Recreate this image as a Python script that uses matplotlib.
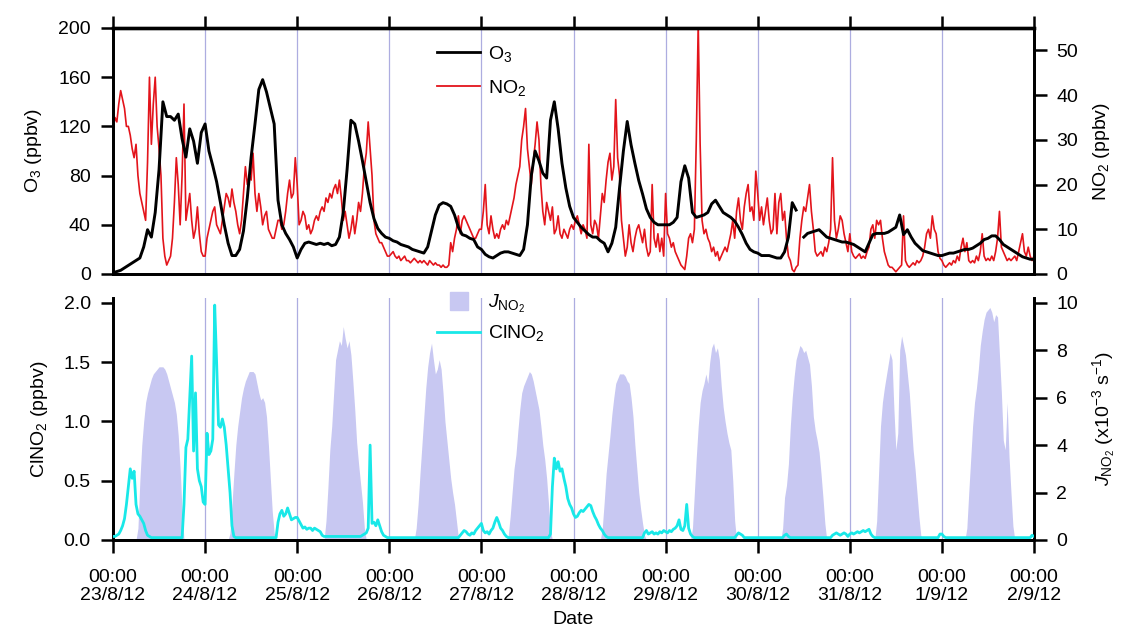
import numpy as np
import pandas as pd
import matplotlib
matplotlib.use("Agg")
import matplotlib.pyplot as plt
from matplotlib.lines import Line2D
from matplotlib.ticker import FormatStrFormatter

plt.rcParams['font.family'] = ['Liberation Sans', 'DejaVu Sans']
plt.rcParams['mathtext.fontset'] = 'custom'
plt.rcParams['mathtext.rm'] = 'Liberation Sans'
plt.rcParams['mathtext.it'] = 'Liberation Sans:italic'
plt.rcParams['mathtext.bf'] = 'Liberation Sans:bold'

# ---------------- data ----------------
# O3 (ppbv), hourly from 23/8/12 00:00 to 2/9/12 00:00
o3_d0 = [1, 2, 3, 5, 7, 9, 11, 13, 22, 36, 30, 50, 85, 140, 128, 128, 125, 130, 110, 95, 118, 108, 90, 115]
o3_d1 = [122, 100, 88, 75, 58, 40, 25, 15, 15, 20, 35, 62, 95, 122, 150, 158, 148, 135, 122, 60, 40, 33, 28, 22]
o3_d2 = [13, 20, 25, 26, 25, 24, 25, 24, 25, 23, 24, 30, 50, 85, 125, 122, 108, 92, 75, 58, 45, 37, 33, 30]
o3_d3 = [29, 27, 26, 24, 23, 22, 20, 19, 18, 17, 22, 35, 48, 56, 58, 57, 55, 48, 38, 32, 31, 29, 28, 22]
o3_d4 = [20, 16, 14, 13, 15, 17, 18, 18, 17, 16, 15, 20, 40, 80, 100, 92, 82, 78, 125, 140, 118, 90, 70, 55]
o3_d5 = [46, 42, 38, 35, 32, 30, 30, 27, 25, 18, 25, 38, 70, 100, 124, 105, 90, 76, 65, 53, 46, 42, 40, 40]
o3_d6 = [40, 40, 42, 46, 75, 88, 78, 50, 46, 47, 48, 50, 57, 60, 55, 50, 48, 46, 43, 38, 32, 25, 20, 18]
o3_d7 = [17, 15, 15, 15, 14, 13, 13, 18, 30, 58, 52, np.nan, 30, 33, 34, 35, 36, 33, 30, 29, 28, 27, 26, 26]
o3_d8 = [25, 24, 22, 20, 18, 25, 32, 33, 33, 33, 34, 36, 38, 48, 32, 36, 30, 25, 22, 19, 18, 17, 16, 15]
o3_d9 = [15, 16, 17, 17, 18, 19, 20, 20, 21, 23, 25, 28, 29, 31, 31, 28, 24, 22, 20, 18, 16, 14, 13, 12, 12]

# NO2 (ppbv), 30-min values
no2_d0 = [32, 35, 34, 38, 41, 39, 37, 33, 33, 31, 28, 26, 29, 22, 18, 16, 14, 12, 25, 44, 29, 38, 44, 33,
          28, 22, 8, 4, 2, 3, 4, 8, 16, 26, 20, 11, 22, 38, 12, 15, 18, 12, 8, 10, 15, 9, 5, 4]
no2_d1 = [4, 8, 10, 12, 14, 15, 11, 10, 9, 12, 15, 18, 17, 15, 19, 16, 14, 11, 9, 12, 18, 24, 20, 22,
          21, 27, 18, 14, 18, 15, 11, 13, 14, 10, 9, 8, 8, 10, 12, 12, 10, 11, 14, 18, 21, 17, 18, 26]
no2_d2 = [20, 11, 12, 14, 13, 10, 11, 9, 10, 12, 13, 12, 14, 15, 14, 17, 16, 18, 17, 19, 20, 18, 21, 17,
          12, 14, 11, 8, 10, 13, 9, 12, 16, 14, 18, 24, 27, 34, 28, 22, 12, 9, 8, 7, 7, 6, 5, 4]
no2_d3 = [4, 4.5, 5, 4, 3.5, 4, 3, 3.5, 4, 3, 3, 2.5, 3, 3.5, 3, 2.5, 3, 2.5, 3, 2.5, 2, 3, 2.5, 2,
          2.5, 2, 2, 1.5, 2, 1.5, 1.5, 2, 7, 5, 8, 10, 13, 9, 12, 13, 12, 11, 10, 9, 8, 8, 9, 10]
no2_d4 = [10, 14, 20, 11, 9, 13, 10, 8, 9, 8, 10, 11, 10, 12, 11, 13, 15, 17, 20, 22, 24, 30, 33, 37,
          28, 24, 20, 25, 29, 34, 30, 20, 14, 11, 16, 14, 12, 15, 9, 10, 13, 9, 8, 10, 9, 8, 10, 11]
no2_d5 = [10, 12, 13, 11, 9, 11, 10, 8, 29, 11, 9, 12, 11, 8, 13, 18, 16, 21, 25, 27, 21, 24, 39, 26,
          22, 12, 8, 4, 6, 11, 7, 5, 8, 10, 11, 9, 7, 10, 6, 4, 5, 20, 8, 6, 9, 5, 8, 4]
no2_d6 = [18, 9, 8, 6, 7, 5, 4, 3, 2, 1.5, 1, 4, 8, 9, 7, 10, 30, 56, 29, 12, 9, 10, 8, 7,
          5, 6, 4, 5, 3, 4, 5, 6, 5, 7, 9, 12, 8, 14, 17, 12, 10, 15, 18, 20, 14, 15, 12, 23]
no2_d7 = [18, 12, 15, 11, 14, 17, 12, 9, 10, 18, 9, 16, 18, 12, 14, 8, 4, 3, 1, 0.5, 1.5, 2, 8, 12,
          15, 14, 17, 20, 14, 10, 5, 4, 4.5, 5, 4, 6, 5, 7, 10, 26, 12, 8, 10, 13, 12, 9, 7, 5]
no2_d8 = [9, 5, 4, 3.5, 4, 4.5, 3.5, 4, 3.5, 5, 6, 10, 11, 8, 12, 11, 12, 8, 5, 3.5, 2, 1.5, 1.5, 1,
          0.5, 1, 1.5, 2, 13, 3, 2, 1.5, 2, 2.5, 2, 3, 2.5, 3, 4, 6, 9, 10, 8, 13, 10, 9, 5, 3.5]
no2_d9 = [3, 2, 1.5, 2, 2.5, 2, 3, 2.5, 4, 3, 6, 8, 5, 7, 3, 2.5, 3, 2.5, 4, 3, 5, 9, 4, 3,
          3.5, 3, 4, 3, 5, 8, 14, 6, 5, 4, 3, 3.5, 3, 3.5, 4, 3, 5, 7, 9, 5, 4, 6, 4, 3, 4]

# J_NO2 (x10^-3 s^-1), 30-min values (zero at night)
j_d0 = [0] * 13 + [0.5, 2.5, 4, 5, 5.8, 6.2, 6.5, 6.8, 7.0, 7.1, 7.2, 7.3, 7.3, 7.3, 7.2, 7.0, 6.7, 6.4,
                   6.1, 5.8, 5.3, 4.4, 3.0, 1.2, 0] + [0] * 10
j_d1 = [0] * 13 + [0.3, 1.5, 2.8, 4, 4.8, 5.4, 6.0, 6.4, 6.7, 6.9, 7.1, 7.1, 7.1, 7.0, 6.6, 6.2, 5.9, 6.0,
                   5.8, 5.2, 4.0, 2.6, 1.2, 0.3] + [0] * 11
j_d2 = [0] * 15 + [0.8, 2.2, 3.8, 4.8, 6.2, 7.6, 8.0, 8.4, 8.2, 9.0, 8.5, 8.1, 8.4, 7.8, 6.7, 5.5, 4.1,
                   3.2, 2.4, 1.6, 0.5] + [0] * 12
j_d3 = [0] * 14 + [0.5, 1.5, 2.8, 4.0, 5.2, 6.4, 7.3, 7.9, 8.3, 7.6, 7.0, 7.2, 7.6, 7.2, 6.2, 5.0, 4.2,
                   3.4, 2.6, 2.0, 1.5, 0.8, 0.1] + [0] * 11
j_d4 = [0] * 14 + [0.2, 1.0, 2.0, 3.0, 3.6, 4.6, 5.5, 6.2, 6.5, 6.7, 6.9, 7.1, 7.0, 6.7, 6.3, 5.9, 5.5,
                   4.8, 4.0, 3.4, 2.6, 1.5, 0.4] + [0] * 11
j_d5 = [0] * 15 + [0.5, 1.6, 2.8, 3.6, 4.4, 5.3, 6.0, 6.6, 6.8, 7.0, 7.0, 7.0, 6.9, 6.7, 6.6, 6.0, 5.2,
                   4.0, 3.0, 2.0, 1.3, 0.7, 0.2] + [0] * 10
j_d6 = [0] * 14 + [0.5, 2.0, 3.5, 4.8, 5.8, 6.3, 6.6, 7.0, 6.6, 7.5, 8.1, 8.3, 7.9, 8.1, 7.6, 6.5, 5.6,
                   5.0, 4.5, 4.1, 3.8, 2.5, 0.8] + [0] * 11
j_d7 = [0] * 13 + [0.5, 1.8, 2.3, 3.2, 4.8, 6.0, 6.9, 7.6, 7.9, 8.2, 8.1, 7.9, 8.0, 7.7, 7.4, 6.5, 5.2,
                   4.6, 4.2, 3.7, 2.8, 1.8, 0.7] + [0] * 12
j_d8 = [0] * 14 + [0.8, 2.8, 4.8, 5.8, 6.4, 6.9, 7.4, 7.9, 7.6, 5.5, 3.8, 4.5, 8.0, 8.6, 8.2, 7.8, 7.0,
                   6.2, 5.0, 3.8, 3.0, 2.0, 1.0, 0.2] + [0] * 10
j_d9 = [0] * 13 + [0.5, 2.0, 3.4, 4.8, 5.8, 6.4, 7.2, 8.2, 8.8, 9.3, 9.6, 9.7, 9.8, 9.6, 9.2, 9.5, 9.4,
                   7.8, 6.2, 4.2, 3.8, 5.8, 3.5, 2.0, 0.6] + [0] * 11

# ClNO2 (ppbv), 30-min values
cl_d0 = [0.03, 0.03, 0.04, 0.05, 0.08, 0.12, 0.18, 0.3, 0.45, 0.6, 0.52, 0.58, 0.3, 0.22, 0.2, 0.17, 0.14,
         0.08, 0.04, 0.03] + [0.02] * 17 + [0.3, 0.78, 0.85, 1.2, 1.55, 0.75, 1.24, 0.6, 0.5, 0.45, 0.32]
cl_d1 = [0.3, 0.9, 0.72, 0.75, 0.85, 1.98, 1.5, 0.97, 0.95, 1.02, 0.95, 0.8, 0.6, 0.4, 0.12, 0.03] \
        + [0.02] * 22 + [0.15, 0.22, 0.25, 0.2, 0.22, 0.27, 0.22, 0.17, 0.18, 0.19]
cl_d2 = [0.19, 0.16, 0.13, 0.1, 0.11, 0.09, 0.1, 0.1, 0.08, 0.1, 0.09, 0.08, 0.07, 0.04] + [0.03] * 20 \
        + [0.04, 0.05, 0.06, 0.1, 0.8, 0.14, 0.15, 0.12, 0.17, 0.12, 0.07, 0.04, 0.03, 0.02]
cl_d3 = [0.02] * 37 + [0.04, 0.06, 0.08, 0.07, 0.05, 0.04, 0.06, 0.05, 0.08, 0.1, 0.12]
cl_d4 = [0.14, 0.08, 0.06, 0.07, 0.05, 0.08, 0.1, 0.15, 0.19, 0.15, 0.1, 0.08, 0.05, 0.03] + [0.02] * 22 \
        + [0.05, 0.45, 0.69, 0.6, 0.66, 0.58, 0.6, 0.52, 0.45, 0.35, 0.3, 0.27]
cl_d5 = [0.22, 0.19, 0.2, 0.23, 0.25, 0.24, 0.26, 0.28, 0.3, 0.29, 0.24, 0.2, 0.17, 0.13, 0.1, 0.08, 0.05,
         0.03] + [0.02] * 19 + [0.06, 0.08, 0.05, 0.06, 0.07, 0.05, 0.06, 0.05, 0.07, 0.06, 0.08]
cl_d6 = [0.07, 0.06, 0.08, 0.07, 0.09, 0.1, 0.12, 0.17, 0.09, 0.08, 0.12, 0.3, 0.1, 0.05, 0.03] \
        + [0.02] * 22 + [0.04, 0.06, 0.05, 0.04] + [0.02] * 7
cl_d7 = [0.02] * 14 + [0.04, 0.05, 0.03] + [0.02] * 22 + [0.04, 0.05, 0.06, 0.05, 0.04, 0.05, 0.06, 0.05, 0.03]
cl_d8 = [0.05, 0.06, 0.05, 0.06, 0.07, 0.06, 0.07, 0.08, 0.07, 0.08, 0.09, 0.05, 0.03] + [0.02] * 34 + [0.05]
cl_d9 = [0.05, 0.03] + [0.02] * 45 + [0.04, 0.03]

date_labels = ['00:00\n23/8/12', '00:00\n24/8/12', '00:00\n25/8/12', '00:00\n26/8/12',
               '00:00\n27/8/12', '00:00\n28/8/12', '00:00\n29/8/12', '00:00\n30/8/12',
               '00:00\n31/8/12', '00:00\n1/9/12', '00:00\n2/9/12']

# ---------------- assemble ----------------
o3 = np.array(o3_d0 + o3_d1 + o3_d2 + o3_d3 + o3_d4 + o3_d5 + o3_d6 + o3_d7 + o3_d8 + o3_d9, dtype=float)
no2 = np.array(no2_d0 + no2_d1 + no2_d2 + no2_d3 + no2_d4 + no2_d5 + no2_d6 + no2_d7 + no2_d8 + no2_d9)
jno2 = np.array(j_d0 + j_d1 + j_d2 + j_d3 + j_d4 + j_d5 + j_d6 + j_d7 + j_d8 + j_d9)
clno2 = np.array(cl_d0 + cl_d1 + cl_d2 + cl_d3 + cl_d4 + cl_d5 + cl_d6 + cl_d7 + cl_d8 + cl_d9)

t_hour = pd.date_range('2012-08-23 00:00', periods=len(o3), freq='h')
t_half = pd.date_range('2012-08-23 00:00', periods=len(no2), freq='30min')
days = pd.date_range('2012-08-23', '2012-09-02', freq='D')

# ---------------- figure ----------------
fig = plt.figure(figsize=(11.29, 6.28), dpi=100)
L, W = 113 / 1129, 921 / 1129
ax1 = fig.add_axes([L, 1 - 274 / 628, W, 246 / 628])
ax2 = ax1.twinx()
ax3 = fig.add_axes([L, 1 - 540 / 628, W, 242 / 628])
ax4 = ax3.twinx()

grid_c = '#adade0'
red = '#e3141b'
cyan = '#19e8e8'
lav = '#c8c8f2'
FS = 14
TL, TP = 9, 7

# top panel
for d in days:
    ax2.axvline(d, color=grid_c, lw=0.9, zorder=0)
ax2.plot(t_half, no2, color=red, lw=1.2, zorder=2)
ax1.plot(t_hour, o3, color='black', lw=2.1, zorder=3)
ax1.set_zorder(ax2.get_zorder() + 1)
ax1.patch.set_visible(False)

ax1.set_xlim(days[0], days[-1])
ax1.set_ylim(0, 200)
ax1.set_yticks(range(0, 201, 40))
ax2.set_ylim(0, 55)
ax2.set_yticks(range(0, 51, 10))
ax1.set_xticks(days)
ax1.tick_params(axis='x', bottom=False, top=True, labelbottom=False, labeltop=False,
                direction='out', length=TL, width=1.8)
ax1.tick_params(axis='y', direction='out', length=TL, width=1.8, labelsize=FS, pad=TP)
ax2.tick_params(axis='y', direction='out', length=TL, width=1.8, labelsize=FS, pad=TP)
for ax in (ax1, ax2):
    for s in ax.spines.values():
        s.set_linewidth(2.0)
    ax.spines['top'].set_linewidth(2.4)
ax1.set_ylabel('O$_3$ (ppbv)', fontsize=FS, labelpad=10)
ax2.set_ylabel('NO$_2$ (ppbv)', fontsize=FS, labelpad=9)

leg1 = ax1.legend(handles=[Line2D([], [], color='black', lw=2), Line2D([], [], color=red, lw=1.3)],
                  labels=['O$_3$', 'NO$_2$'], loc='upper left', bbox_to_anchor=(0.333, 1.005),
                  frameon=False, fontsize=FS, handlelength=2.2, handletextpad=0.4, labelspacing=0.7)

# bottom panel
for d in days:
    ax4.axvline(d, color=grid_c, lw=0.9, zorder=0)
ax4.fill_between(t_half, jno2, 0, color=lav, lw=0, zorder=1)
ax3.plot(t_half, clno2, color=cyan, lw=2.0, zorder=3)
ax3.set_zorder(ax4.get_zorder() + 1)
ax3.patch.set_visible(False)

ax3.set_xlim(days[0], days[-1])
ax3.set_yticks(np.arange(0, 2.01, 0.5))
ax3.yaxis.set_major_formatter(FormatStrFormatter('%.1f'))
ax4.set_ylim(0, 10.2)
ax4.set_yticks(range(0, 11, 2))
ax3.set_ylim(0, 2.04)
ax3.set_xticks(days)
ax3.set_xticklabels(date_labels, linespacing=1.05)
ax3.tick_params(axis='x', direction='out', length=TL, width=1.8, labelsize=FS, pad=12)
ax3.tick_params(axis='y', direction='out', length=TL, width=1.8, labelsize=FS, pad=TP)
ax4.tick_params(axis='y', direction='out', length=TL, width=1.8, labelsize=FS, pad=TP)
for ax in (ax3, ax4):
    for s in ax.spines.values():
        s.set_linewidth(2.0)
    ax.spines['top'].set_visible(False)
ax3.set_ylabel('ClNO$_2$ (ppbv)', fontsize=FS, labelpad=10)
ax4.set_ylabel(r'$J_{\mathrm{NO_2}}$ (x10$^{-3}$ s$^{-1}$)', fontsize=FS, labelpad=9)
ax3.set_xlabel('Date', fontsize=FS, labelpad=5)

leg2 = ax3.legend(handles=[Line2D([], [], ls='none', marker='s', ms=13, color=lav),
                           Line2D([], [], color=cyan, lw=2)],
                  labels=[r'$J_{\mathrm{NO_2}}$', 'ClNO$_2$'], loc='upper left',
                  bbox_to_anchor=(0.333, 1.095), frameon=False, fontsize=FS,
                  handlelength=2.2, handletextpad=0.4, labelspacing=0.45)

fig.savefig('out.png', dpi=100, facecolor='white')
